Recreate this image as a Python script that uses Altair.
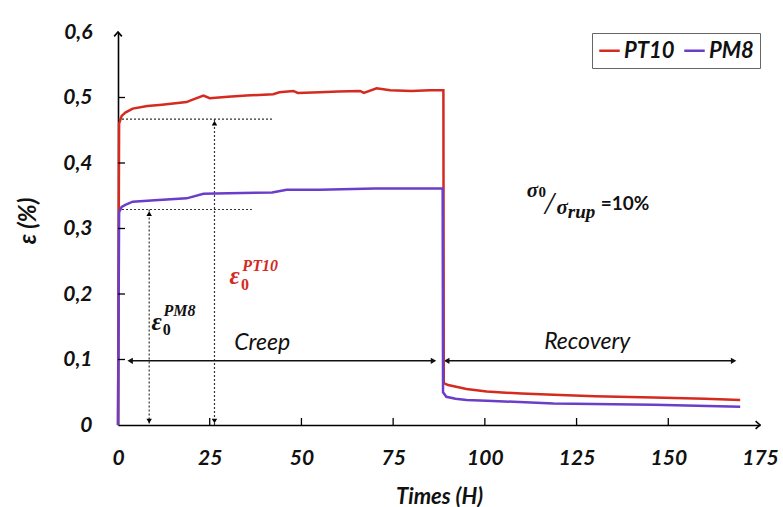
import altair as alt
import pandas as pd

# ---------------- data ----------------
pt10_t = [0, 0.3, 1, 2, 4, 8, 12, 18.7, 20, 23.3, 25, 30, 35, 42.3, 44, 47.8, 49, 55, 60, 66, 67, 70.5, 74.2,
          80, 85, 88.7, 88.8, 90, 95, 100.5, 110, 118.7, 130, 146, 160, 169.6]
pt10_v = [0, 0.46, 0.472, 0.477, 0.483, 0.487, 0.489, 0.493, 0.496, 0.503, 0.499, 0.501, 0.503, 0.505, 0.508,
          0.510, 0.507, 0.508, 0.509, 0.510, 0.507, 0.514, 0.511, 0.510, 0.511, 0.511, 0.064, 0.061, 0.055,
          0.051, 0.048, 0.046, 0.044, 0.042, 0.040, 0.038]
pm8_t = [0, 0.3, 1, 2, 4, 10, 18.7, 23.3, 30, 42, 46, 55, 70, 88.5, 88.6, 89.5, 92, 95, 100.5, 118.7, 146, 169.6]
pm8_v = [0, 0.325, 0.333, 0.336, 0.341, 0.343, 0.346, 0.353, 0.354, 0.355, 0.359, 0.359, 0.361, 0.361, 0.050,
         0.043, 0.040, 0.038, 0.037, 0.033, 0.031, 0.028]

series_names = ["PT10", "PM8"]
series_colors = ["#d52a1f", "#6a3ec8"]

x_ticks = [25, 50, 75, 100, 125, 150]
y_ticks = [0.1, 0.2, 0.3, 0.4, 0.5]

# reference levels (dotted)
eps0_levels = [0.467, 0.329]
eps0_level_ends = [42.3, 36.5]
eps0_arrow_t = [26.3, 8.5]

# creep / recovery arrows
phase_names = ["Creep", "Recovery"]
phase_start = [3.3, 89.6]
phase_end = [86.0, 167.8]
phase_level = 0.098
phase_label_t = [39.3, 127.9]
phase_label_v = [0.125, 0.127]

# ---------------- tables ----------------
rows = []
for i, (t, v) in enumerate(zip(pt10_t, pt10_v)):
    rows.append({"t": t, "v": v, "series": "PT10", "o": i})
for i, (t, v) in enumerate(zip(pm8_t, pm8_v)):
    rows.append({"t": t, "v": v, "series": "PM8", "o": i})
df = pd.DataFrame(rows)

W, H = 642, 393
xs = alt.Scale(domain=[0, 175], nice=False, zero=False)
ys = alt.Scale(domain=[0, 0.6], nice=False, zero=False)

FONT = "Lato"
SERIF = "Liberation Serif"

lines = alt.Chart(df).mark_line(strokeWidth=2.5, clip=False).encode(
    x=alt.X("t:Q", scale=xs, axis=alt.Axis(
        title="Times (H)", values=[0, 25, 50, 75, 100, 125, 150, 175], grid=False, ticks=False, tickSize=0,
        domainColor="black", domainWidth=1.6, labelFont=FONT, labelFontSize=21, labelFontStyle="italic",
        labelFontWeight="bold", labelColor="#111", labelPadding=22, labelFlush=False,
        titleFont=FONT, titleFontSize=22, titleFontStyle="italic", titleFontWeight="bold", titleColor="#111",
        titleY=71, titleBaseline="middle")),
    y=alt.Y("v:Q", scale=ys, axis=alt.Axis(
        title="ε (%)", values=[0, 0.1, 0.2, 0.3, 0.4, 0.5, 0.6], grid=False, ticks=False, tickSize=0,
        domainColor="black", domainWidth=1.6, labelFont=FONT, labelFontSize=21, labelFontStyle="italic",
        labelFontWeight="bold", labelColor="#111", labelPadding=26, labelFlush=False,
        labelExpr="datum.value == 0 ? '0' : replace(format(datum.value, '.1f'), '.', ',')",
        titleFont=FONT, titleFontSize=24, titleFontStyle="italic", titleFontWeight="bold", titleColor="#111",
        titleX=-90, titleY=H / 2 - 8, titleBaseline="middle", titleAngle=-90)),
    color=alt.Color("series:N", scale=alt.Scale(domain=series_names, range=series_colors),
                    legend=alt.Legend(orient="none", legendX=474, legendY=1, direction="horizontal",
                                      title=None, strokeColor="#666", fillColor="white", padding=6,
                                      symbolType="stroke", symbolStrokeWidth=2.5, symbolSize=420,
                                      labelFont=FONT, labelFontSize=22, labelFontStyle="italic",
                                      labelFontWeight="bold", labelColor="#111", columnPadding=4,
                                      labelOffset=3)),
    order="o:Q",
)

# inward ticks
ytick_df = pd.DataFrame({"v": y_ticks})
xtick_df = pd.DataFrame({"t": x_ticks})
yticks = alt.Chart(ytick_df).mark_rule(color="black", strokeWidth=1.3).encode(
    y=alt.Y("v:Q", scale=ys), x=alt.value(0), x2=alt.value(7))
xticks = alt.Chart(xtick_df).mark_rule(color="black", strokeWidth=1.3).encode(
    x=alt.X("t:Q", scale=xs), y=alt.value(H), y2=alt.value(H - 7))

# axis arrow heads
ax_up = alt.Chart(pd.DataFrame({"t": [0], "v": [0.6]})).mark_point(
    shape="M-0.7,0.8L0,0L0.7,0.8", filled=False, stroke="black", strokeWidth=1.6, size=120, opacity=1
).encode(x=alt.X("t:Q", scale=xs), y=alt.Y("v:Q", scale=ys))
ax_right = alt.Chart(pd.DataFrame({"t": [175], "v": [0]})).mark_point(
    shape="M-0.8,-0.7L0,0L-0.8,0.7", filled=False, stroke="black", strokeWidth=1.6, size=120, opacity=1
).encode(x=alt.X("t:Q", scale=xs), y=alt.Y("v:Q", scale=ys))

# dotted eps0 guides
lev_df = pd.DataFrame({"v": eps0_levels, "t0": [0, 0], "t1": eps0_level_ends, "ta": eps0_arrow_t})
hdot = alt.Chart(lev_df).mark_rule(color="#333", strokeWidth=1.2, strokeDash=[2, 2]).encode(
    y=alt.Y("v:Q", scale=ys), x=alt.X("t0:Q", scale=xs), x2="t1:Q")
vdot = alt.Chart(lev_df).mark_rule(color="#333", strokeWidth=1.2, strokeDash=[2, 2]).encode(
    x=alt.X("ta:Q", scale=xs), y=alt.Y("v:Q", scale=ys), y2=alt.datum(0))
vtop = alt.Chart(lev_df).mark_point(shape="triangle-up", filled=True, color="black", size=30,
                                    opacity=1, yOffset=4).encode(
    x=alt.X("ta:Q", scale=xs), y=alt.Y("v:Q", scale=ys))
vbot = alt.Chart(lev_df).mark_point(shape="triangle-down", filled=True, color="black", size=30,
                                    opacity=1, yOffset=-4).encode(
    x=alt.X("ta:Q", scale=xs), y=alt.datum(0))

# phase arrows
ph_df = pd.DataFrame({"name": phase_names, "t0": phase_start, "t1": phase_end,
                      "v": [phase_level, phase_level], "lt": phase_label_t, "lv": phase_label_v})
ph_rule = alt.Chart(ph_df).mark_rule(color="#111", strokeWidth=1.4).encode(
    x=alt.X("t0:Q", scale=xs), x2="t1:Q", y=alt.Y("v:Q", scale=ys))
ph_left = alt.Chart(ph_df).mark_point(shape="triangle-left", filled=True, color="#111", size=40,
                                      opacity=1).encode(
    x=alt.X("t0:Q", scale=xs), y=alt.Y("v:Q", scale=ys))
ph_right = alt.Chart(ph_df).mark_point(shape="triangle-right", filled=True, color="#111", size=40,
                                       opacity=1).encode(
    x=alt.X("t1:Q", scale=xs), y=alt.Y("v:Q", scale=ys))
ph_text = alt.Chart(ph_df).mark_text(font=FONT, fontSize=23, fontStyle="italic", color="#111",
                                     baseline="middle").encode(
    x=alt.X("lt:Q", scale=xs), y=alt.Y("lv:Q", scale=ys), text="name:N")


def txt(t, v, s, size, color="#111", font=SERIF, style="italic", weight="bold"):
    return alt.Chart(pd.DataFrame({"t": [t], "v": [v], "s": [s]})).mark_text(
        font=font, fontSize=size, fontStyle=style, fontWeight=weight, color=color,
        align="left", baseline="middle").encode(
        x=alt.X("t:Q", scale=xs), y=alt.Y("v:Q", scale=ys), text="s:N")


red = series_colors[0]
labels = [
    txt(30.4, 0.2275, "ε", 25, red),
    txt(33.5, 0.214, "0", 16, red, style="normal"),
    txt(33.9, 0.243, "PT10", 16, red),
    txt(9.1, 0.158, "ε", 25),
    txt(12.2, 0.145, "0", 16, style="normal"),
    txt(12.4, 0.1735, "PM8", 16),
    txt(111.4, 0.357, "σ", 21),
    txt(114.6, 0.355, "0", 15, style="normal"),
    txt(116.4, 0.337, "/", 32, weight="normal"),
    txt(119.5, 0.331, "σ", 21),
    txt(122.6, 0.325, "rup", 19),
    txt(131.6, 0.338, "=10%", 19, font=FONT, style="normal"),
]

chart = alt.layer(
    hdot, vdot, vtop, vbot, ph_rule, ph_left, ph_right, ph_text, lines, yticks, xticks, ax_up, ax_right,
    *labels
).properties(
    width=W, height=H,
    autosize=alt.AutoSizeParams(type="none"),
    padding={"left": 118, "top": 32, "right": 23, "bottom": 82},
    background="white",
).configure_view(stroke=None)

chart.save("out.html", embed_options={"renderer": "svg", "actions": False})
